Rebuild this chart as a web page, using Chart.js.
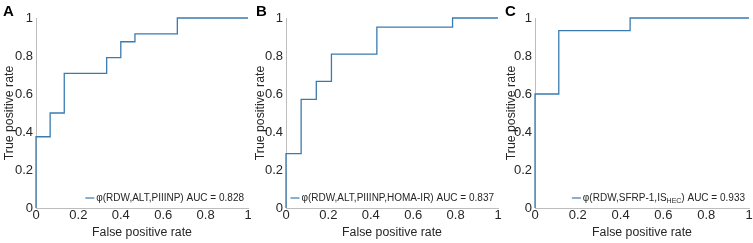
<!DOCTYPE html>
<html>
<head>
<meta charset="utf-8">
<script src="https://cdn.jsdelivr.net/npm/chart.js@4.4.1/dist/chart.umd.min.js"></script>
<style>
  body { margin: 0; background: #fff; }
  #page { position: relative; width: 753px; height: 243px; overflow: hidden; }
  .panel { position: absolute; top: 0; width: 251px; height: 243px; }
  .letter { position: absolute; font: bold 15px Arial, "Liberation Sans", sans-serif; color: #000; }
</style>
</head>
<body>
<div id="page">
  <div class="panel" style="left:0"><canvas id="rocA" width="251" height="243"></canvas></div>
  <div class="panel" style="left:251px"><canvas id="rocB" width="251" height="243"></canvas></div>
  <div class="panel" style="left:502px"><canvas id="rocC" width="251" height="243"></canvas></div>
  <div class="letter" style="left:3px;top:2px">A</div>
  <div class="letter" style="left:256px;top:2px">B</div>
  <div class="letter" style="left:505px;top:2px">C</div>
</div>
<script>
// ROC points (false positive rate, true positive rate)
const fprA = [0, 0, 0.0667, 0.0667, 0.1333, 0.1333, 0.3333, 0.3333, 0.4, 0.4, 0.4667, 0.4667, 0.6667, 0.6667, 1];
const tprA = [0, 0.375, 0.375, 0.5, 0.5, 0.7083, 0.7083, 0.7917, 0.7917, 0.875, 0.875, 0.9167, 0.9167, 1, 1];

const fprB = [0, 0, 0.0714, 0.0714, 0.1429, 0.1429, 0.2143, 0.2143, 0.4286, 0.4286, 0.7857, 0.7857, 1];
const tprB = [0, 0.2857, 0.2857, 0.5714, 0.5714, 0.6667, 0.6667, 0.8095, 0.8095, 0.9524, 0.9524, 1, 1];

const fprC = [0, 0, 0.1111, 0.1111, 0.4444, 0.4444, 1];
const tprC = [0, 0.6, 0.6, 0.9333, 0.9333, 1, 1];

const tickValues = [0, 0.2, 0.4, 0.6, 0.8, 1];
const tickLabels = ['0', '0.2', '0.4', '0.6', '0.8', '1'];

// legend text split as [normal, subscript, normal]
const labelA = ['φ(RDW,ALT,PIIINP) AUC = 0.828', '', ''];
const labelB = ['φ(RDW,ALT,PIIINP,HOMA-IR) AUC = 0.837', '', ''];
const labelC = ['φ(RDW,SFRP-1,IS', 'HEC', ') AUC = 0.933'];

const FONT = 'Arial, "Liberation Sans", sans-serif';
const TEXT = '#262626';
const LINE = '#3a7bb0';

// legend drawn inside the bottom right corner of the plot
const rocLegend = {
    id: 'rocLegend',
    afterDraw(chart, args, opts) {
        const ctx = chart.ctx;
        const area = chart.chartArea;
        const parts = opts.parts;
        ctx.save();
        ctx.textBaseline = 'middle';
        ctx.font = '10px ' + FONT;
        const w0 = ctx.measureText(parts[0]).width;
        const w2 = ctx.measureText(parts[2]).width;
        ctx.font = '7px ' + FONT;
        const w1 = ctx.measureText(parts[1]).width;
        const total = w0 + w1 + w2;
        const y = area.bottom - 10;
        let x = area.right - 4 - total;
        ctx.strokeStyle = LINE;
        ctx.lineWidth = 1.2;
        ctx.beginPath();
        ctx.moveTo(x - 11, y);
        ctx.lineTo(x - 2, y);
        ctx.stroke();
        ctx.fillStyle = TEXT;
        ctx.font = '10px ' + FONT;
        ctx.fillText(parts[0], x, y);
        x += w0;
        ctx.font = '7px ' + FONT;
        ctx.fillText(parts[1], x, y + 3.5);
        x += w1;
        ctx.font = '10px ' + FONT;
        ctx.fillText(parts[2], x, y);
        ctx.restore();
    }
};

const setTicks = s => { s.ticks = tickValues.map(v => ({ value: v })); };
const tickText = (v, i) => tickLabels[i];

function makeRoc(id, fpr, tpr, label, yWidth, padRight) {
    const points = fpr.map((v, i) => ({ x: v, y: tpr[i] }));
    return new Chart(document.getElementById(id), {
        type: 'scatter',
        data: {
            datasets: [{
                data: points,
                showLine: true,
                borderColor: LINE,
                borderWidth: 1.3,
                pointRadius: 0,
                clip: false
            }]
        },
        options: {
            responsive: false,
            animation: false,
            layout: { padding: { top: 18, right: padRight, left: 0, bottom: 0 } },
            plugins: {
                legend: { display: false },
                tooltip: { enabled: false },
                rocLegend: { parts: label }
            },
            scales: {
                x: {
                    type: 'linear', min: 0, max: 1,
                    grid: { display: false, drawTicks: false },
                    border: { color: '#bdbdbd', width: 1 },
                    afterBuildTicks: setTicks,
                    afterFit: s => { s.height = 35; s.paddingLeft = 0; s.paddingRight = 0; },
                    ticks: { color: TEXT, padding: 0, maxRotation: 0, callback: tickText, font: { family: FONT, size: 13 } },
                    title: { display: true, text: 'False positive rate', color: TEXT, padding: { top: 0, bottom: 3.5 }, font: { family: FONT, size: 12.3 } }
                },
                y: {
                    type: 'linear', min: 0, max: 1,
                    grid: { display: false, drawTicks: false },
                    border: { color: '#bdbdbd', width: 1 },
                    afterBuildTicks: setTicks,
                    afterFit: s => { s.width = yWidth; s.paddingTop = 0; s.paddingBottom = 0; },
                    ticks: { color: TEXT, padding: 3, callback: tickText, font: { family: FONT, size: 13 } },
                    title: { display: true, text: 'True positive rate', color: TEXT, padding: { top: 2, bottom: 0 }, font: { family: FONT, size: 12.3 } }
                }
            }
        },
        plugins: [rocLegend]
    });
}

makeRoc('rocA', fprA, tprA, labelA, 36, 3);
makeRoc('rocB', fprB, tprB, labelB, 35, 4);
makeRoc('rocC', fprC, tprC, labelC, 33, 4);
</script>
</body>
</html>
